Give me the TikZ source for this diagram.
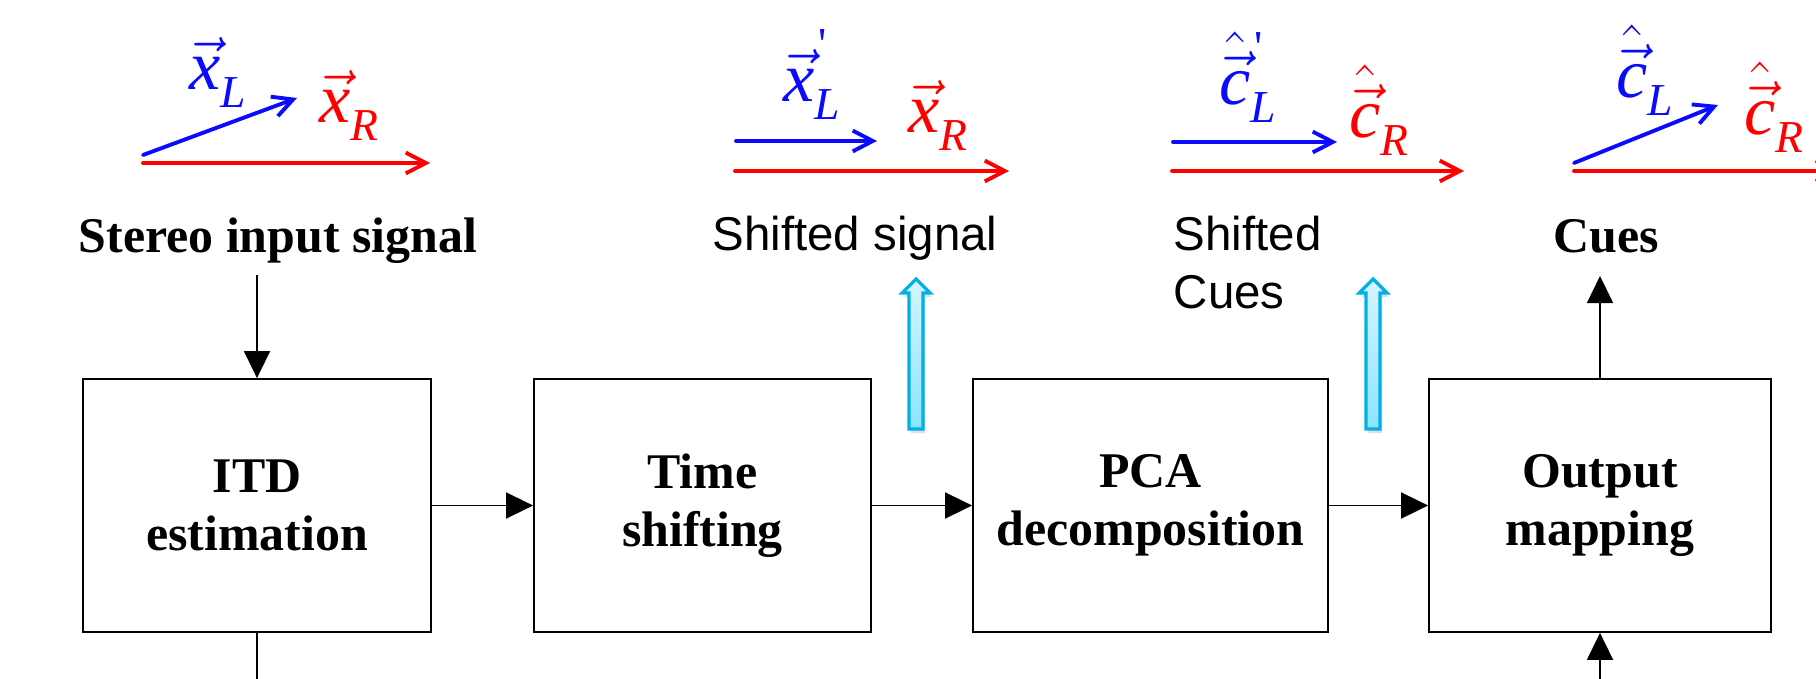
\documentclass[tikz,border=0pt]{standalone}
\usepackage{fontspec}
\setmainfont{Liberation Serif}
\newfontfamily\arialfont{Liberation Sans}
\usetikzlibrary{arrows.meta,shadows}
\definecolor{sigblue}{RGB}{10,10,255}
\definecolor{sigred}{RGB}{255,0,0}
\definecolor{cuedge}{RGB}{0,176,230}
\definecolor{cutop}{RGB}{214,245,255}
\definecolor{cubot}{RGB}{140,228,255}
\newcommand{\sublbl}{\fontsize{13}{13}\selectfont}

\begin{document}
\begin{tikzpicture}[>={Triangle[length=7.7pt,width=7.4pt]},line width=0.5pt,
    block/.style={shape=rectangle,draw=black,inner sep=0pt,minimum height=2.53cm,align=center,font=\fontsize{14.2}{16.5}\selectfont\bfseries},
    title/.style={inner sep=0pt,font=\fontsize{14.2}{16.5}\selectfont\bfseries},
    plain/.style={inner sep=0pt,font=\fontsize{13.5}{16.5}\selectfont\arialfont},
    veclbl/.style={inner sep=0pt,font=\fontsize{20}{24}\selectfont},
    vecL/.style={draw=sigblue,line width=1.1pt,line cap=round,-{Straight Barb[length=5.7pt,width=5.9pt]}},
    vecR/.style={draw=sigred,line width=1.1pt,line cap=round,-{Straight Barb[length=5.7pt,width=5.9pt]}},
    hollow/.style={draw=cuedge,line width=0.9pt,top color=cutop,bottom color=cubot,
        drop shadow={opacity=0.25,shadow xshift=0.6pt,shadow yshift=-1.2pt}}]
            \clip (0,0) rectangle (18.16,6.78);
            % blocks
            \node[block,minimum width=3.48cm](ITD)at(2.57, 1.725){ITD\\estimation};
            \node[block,minimum width=3.37cm](TS)at(7.025, 1.725){Time\\shifting};
            \node[block,minimum width=3.55cm](PCA)at(11.505, 1.725){PCA\\decomposition};
            \node[block,minimum width=3.42cm](OM)at(16.00, 1.725){Output\\mapping};
            % captions
            \node[title,anchor=base](Stereo)at(2.78, 4.26){Stereo input signal};
            \node[plain,anchor=base](Shifted)at(8.55, 4.28){Shifted signal};
            \node[plain,anchor=base west,align=left](ShCues)at(11.73, 3.70){Shifted\\Cues};
            \node[title,anchor=base](Cues)at(16.06, 4.25){Cues};
            \coordinate (Sin) at (2.57, 4.03);
            \coordinate (Cout) at (16.00, 4.02);
            \coordinate (Dn) at (2.57, -0.2);
            \coordinate (Up) at (16.00, -0.2);
            \path[->] (Sin) edge (ITD)
            (ITD) edge (TS)
            (TS) edge (PCA)
            (PCA) edge (OM)
            (OM) edge (Cout)
            (Up) edge (OM);
            \draw (ITD) -- (Dn);
            % cyan block arrows
            \draw[hollow] (9.09,2.49) -- (9.09,3.85) -- (9.02,3.85) -- (9.16,3.99) -- (9.30,3.85) -- (9.23,3.85) -- (9.23,2.49) -- cycle;
            \draw[hollow] (13.66,2.49) -- (13.66,3.85) -- (13.59,3.85) -- (13.73,3.99) -- (13.87,3.85) -- (13.80,3.85) -- (13.80,2.49) -- cycle;
            % signal vectors
            \draw[vecL] (1.43, 5.23) -- (2.97, 5.80);
            \draw[vecR] (1.43, 5.15) -- (4.30, 5.15);
            \node[veclbl,text=sigblue,anchor=base](xL)at(2.18, 5.88){$\vec{\textit{x}}$\raisebox{-5pt}{\sublbl\textit{L}}};
            \node[veclbl,text=sigred,anchor=base](xR)at(3.49, 5.55){$\vec{\textit{x}}$\raisebox{-5pt}{\sublbl\textit{R}}};
            \draw[vecL] (7.36, 5.37) -- (8.77, 5.37);
            \draw[vecR] (7.35, 5.07) -- (10.09, 5.07);
            \node[veclbl,text=sigblue,anchor=base](xsL)at(8.12, 5.76){$\vec{\textit{x}}$\rlap{\raisebox{12pt}{\sublbl\kern1pt\textquotesingle}}\raisebox{-5pt}{\sublbl\textit{L}}};
            \node[veclbl,text=sigred,anchor=base](xsR)at(9.38, 5.45){$\vec{\textit{x}}$\raisebox{-5pt}{\sublbl\textit{R}}};
            \draw[vecL] (11.73, 5.36) -- (13.37, 5.36);
            \draw[vecR] (11.72, 5.07) -- (14.64, 5.07);
            \node[veclbl,text=sigblue,anchor=base](csL)at(12.48, 5.73){$\hat{\vec{\textit{c}}}$\rlap{\raisebox{12pt}{\sublbl\kern1pt\textquotesingle}}\raisebox{-5pt}{\sublbl\textit{L}}};
            \node[veclbl,text=sigred,anchor=base](csR)at(13.79, 5.40){$\hat{\vec{\textit{c}}}$\raisebox{-5pt}{\sublbl\textit{R}}};
            \draw[vecL] (15.74, 5.15) -- (17.18, 5.73);
            \draw[vecR] (15.74, 5.07) -- (18.40, 5.07);
            \node[veclbl,text=sigblue,anchor=base](cL)at(16.45, 5.80){$\hat{\vec{\textit{c}}}$\raisebox{-5pt}{\sublbl\textit{L}}};
            \node[veclbl,text=sigred,anchor=base](cR)at(17.74, 5.43){$\hat{\vec{\textit{c}}}$\raisebox{-5pt}{\sublbl\textit{R}}};
        \end{tikzpicture}
\end{document}
